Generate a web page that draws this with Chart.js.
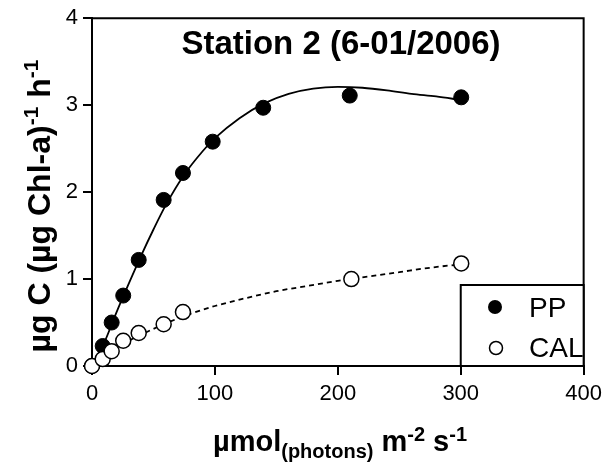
<!DOCTYPE html>
<html><head><meta charset="utf-8">
<script src="https://cdn.jsdelivr.net/npm/chart.js@4/dist/chart.umd.min.js"></script>
<style>html,body{margin:0;padding:0;background:#fff;}canvas{display:block;}</style>
</head><body>
<canvas id="c" width="608" height="470"></canvas>
<script>
// Measured points
const ppX  = [0, 8.7, 16, 25.4, 38, 58.3, 74, 98.2, 139.3, 209.7, 300.4];
const ppY  = [0, 0.23, 0.50, 0.81, 1.22, 1.91, 2.22, 2.58, 2.97, 3.11, 3.09];
const calX = [0, 8.7, 16, 25.4, 38, 58.3, 74, 211, 300.4];
const calY = [0, 0.08, 0.17, 0.29, 0.38, 0.48, 0.62, 1.00, 1.18];
// Fitted curves
const ppFitX  = [0, 10, 20, 30, 40, 50, 60, 75, 90, 100, 120, 140, 160, 180, 200, 220, 240, 260, 280, 300];
const ppFitY  = [0, 0.27, 0.62, 0.95, 1.27, 1.57, 1.85, 2.20, 2.47, 2.62, 2.85, 3.02, 3.13, 3.19, 3.21, 3.20, 3.17, 3.13, 3.10, 3.06];
const calFitX = [0, 10, 20, 30, 40, 60, 80, 100, 125, 150, 175, 200, 225, 250, 275, 300];
const calFitY = [0, 0.10, 0.20, 0.29, 0.36, 0.49, 0.60, 0.69, 0.78, 0.86, 0.92, 0.98, 1.03, 1.08, 1.13, 1.17];
const xTicks = [0, 100, 200, 300, 400];
const yTicks = [0, 1, 2, 3, 4];
const titleText = 'Station 2 (6-01/2006)';
const legendLabels = ['PP', 'CAL'];

const FAM = '"Liberation Sans", Arial, Helvetica, sans-serif';
const pts = (xs, ys) => xs.map((x, i) => ({x, y: ys[i]}));

function drawRich(ctx, segs, cx, baseline) {
  let total = 0;
  segs.forEach(s => { ctx.font = (s.bold ? 'bold ' : '') + s.size + 'px ' + FAM; s.w = ctx.measureText(s.t).width; total += s.w; });
  let x = cx - total / 2;
  ctx.textAlign = 'left'; ctx.textBaseline = 'alphabetic';
  segs.forEach(s => { ctx.font = (s.bold ? 'bold ' : '') + s.size + 'px ' + FAM; ctx.fillText(s.t, x, baseline + (s.dy || 0)); x += s.w; });
}

const deco = {
  id: 'deco',
  beforeDatasetsDraw(chart) {
    const {ctx, chartArea: a} = chart;
    ctx.save();
    ctx.strokeStyle = '#000'; ctx.lineWidth = 2;
    ctx.beginPath();
    ctx.moveTo(a.left, a.top); ctx.lineTo(a.right, a.top); ctx.lineTo(a.right, a.bottom);
    ctx.stroke();
    ctx.restore();
  },
  afterDraw(chart) {
    const {ctx, chartArea: a} = chart;
    ctx.save();
    ctx.fillStyle = '#000';
    // title
    drawRich(ctx, [{t: titleText, size: 33, bold: true}], 341, 54);
    // x title
    drawRich(ctx, [
      {t: 'µmol', size: 29, bold: true},
      {t: '(photons)', size: 20, bold: true, dy: 7},
      {t: ' m', size: 29, bold: true},
      {t: '-2', size: 20, bold: true, dy: -10},
      {t: ' s', size: 29, bold: true},
      {t: '-1', size: 20, bold: true, dy: -10}
    ], 340, 451);
    // y title
    ctx.translate(50, 206);
    ctx.rotate(-Math.PI / 2);
    drawRich(ctx, [
      {t: 'µg C (µg Chl-a)', size: 32, bold: true},
      {t: '-1', size: 21, bold: true, dy: -12},
      {t: ' h', size: 32, bold: true},
      {t: '-1', size: 21, bold: true, dy: -12}
    ], 0, 0);
    ctx.restore();
    // legend
    ctx.save();
    const lx = chart.scales.x.getPixelForValue(300);
    const ly = 285;
    ctx.fillStyle = '#fff';
    ctx.fillRect(lx, ly, a.right - lx, a.bottom - ly);
    ctx.strokeStyle = '#000'; ctx.lineWidth = 2;
    ctx.strokeRect(lx, ly, a.right - lx, a.bottom - ly);
    const rows = [307, 347];
    ctx.lineWidth = 1.5;
    ctx.beginPath(); ctx.arc(495, rows[0], 7, 0, Math.PI * 2); ctx.fillStyle = '#000'; ctx.fill();
    ctx.beginPath(); ctx.arc(496, rows[1] + 1, 6.5, 0, Math.PI * 2); ctx.fillStyle = '#fff'; ctx.fill(); ctx.stroke();
    ctx.fillStyle = '#000';
    ctx.font = '28px ' + FAM; ctx.textAlign = 'left'; ctx.textBaseline = 'alphabetic';
    ctx.fillText(legendLabels[0], 529, rows[0] + 10);
    ctx.fillText(legendLabels[1], 529, rows[1] + 10);
    ctx.restore();
  }
};

new Chart(document.getElementById('c'), {
  type: 'scatter',
  data: {datasets: [
    {label: 'CAL', data: pts(calX, calY), pointRadius: 7.5, pointHoverRadius: 7.5, pointBackgroundColor: '#fff', pointBorderColor: '#000', pointBorderWidth: 1.5, showLine: false, order: 0, clip: false},
    {label: 'PP', data: pts(ppX, ppY), pointRadius: 7.5, pointHoverRadius: 7.5, pointBackgroundColor: '#000', pointBorderColor: '#000', pointBorderWidth: 1, showLine: false, order: 1, clip: false},
    {label: 'PP fit', data: pts(ppFitX, ppFitY), showLine: true, pointRadius: 0, borderColor: '#000', borderWidth: 1.8, cubicInterpolationMode: 'monotone', order: 2},
    {label: 'CAL fit', data: pts(calFitX, calFitY), showLine: true, pointRadius: 0, borderColor: '#000', borderWidth: 1.8, borderDash: [5, 4], cubicInterpolationMode: 'monotone', order: 3}
  ]},
  options: {
    responsive: false, animation: false, devicePixelRatio: 1,
    layout: {padding: {top: 14, right: 22, left: 0, bottom: 0}},
    plugins: {legend: {display: false}, tooltip: {enabled: false}},
    scales: {
      x: {
        type: 'linear', min: 0, max: 400,
        afterBuildTicks: s => { s.ticks = xTicks.map(v => ({value: v})); },
        ticks: {color: '#000', font: {size: 22, family: FAM}, padding: 6, maxRotation: 0},
        grid: {drawOnChartArea: false, drawTicks: true, tickLength: 9, color: '#000', lineWidth: 2},
        border: {display: true, color: '#000', width: 2},
        afterFit: s => { s.height = 104; }
      },
      y: {
        type: 'linear', min: 0, max: 4,
        afterBuildTicks: s => { s.ticks = yTicks.map(v => ({value: v})); },
        ticks: {color: '#000', font: {size: 22, family: FAM}, padding: 5},
        grid: {drawOnChartArea: false, drawTicks: true, tickLength: 9, color: '#000', lineWidth: 2},
        border: {display: true, color: '#000', width: 2},
        afterFit: s => { s.width = 92; }
      }
    }
  },
  plugins: [deco]
});
</script>
</body></html>
